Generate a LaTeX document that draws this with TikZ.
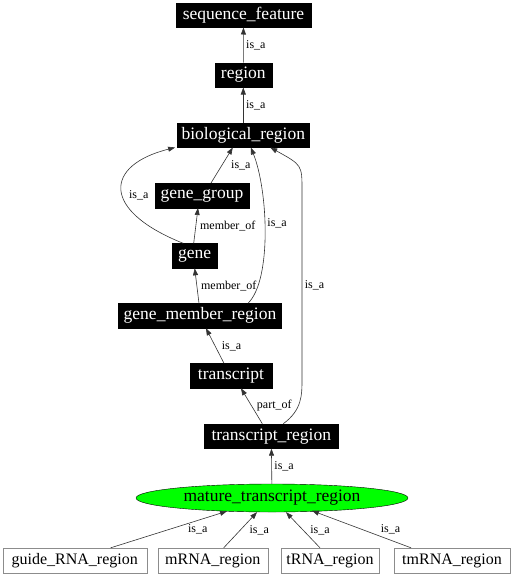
\documentclass[tikz,border=0pt]{standalone}
\usepackage{fontspec}
\setmainfont{Liberation Serif}
\usetikzlibrary{shapes.geometric, arrows.meta}
\definecolor{sogreen}{HTML}{00FF00}
\definecolor{sogray}{HTML}{8C8C8C}
\definecolor{soline}{HTML}{333333}

\begin{document}
\begin{tikzpicture}[x=1pt, y=-1pt,
    term/.style={draw=black, fill=black, text=white, inner sep=0pt,
          minimum height=24.6pt, font=\fontsize{17.5}{18}\selectfont},
    leaf/.style={draw=sogray, fill=white, text=black, inner sep=0pt,
          minimum height=25pt, font=\fontsize{16}{17}\selectfont},
    rel/.style={-{Triangle[length=7pt,width=5pt]}, line width=0.6pt, color=soline},
    lab/.style={font=\fontsize{12}{12}\selectfont, text=black, inner sep=0pt,
          anchor=west, xshift=2.5pt}]
    \useasboundingbox (0,0) rectangle (512,576);
    \node[term, minimum width=135pt] (sf) at (243.5,15) {sequence\_feature};
    \node[term, minimum width=57pt] (reg) at (243.3,75) {region};
    \node[term, minimum width=132pt] (br) at (243.3,135) {biological\_region};
    \node[term, minimum width=94pt] (gg) at (202,195.5) {gene\_group};
    \node[term, minimum width=45pt] (gene) at (194.7,255.8) {gene};
    \node[term, minimum width=163pt] (gmr) at (200,315.8) {gene\_member\_region};
    \node[term, minimum width=82pt] (tsc) at (231,375.8) {transcript};
    \node[term, minimum width=134pt] (tr) at (271.3,436.2) {transcript\_region};
    \node[ellipse, draw=black, fill=sogreen, inner sep=0pt, minimum width=272pt,
          minimum height=28pt, font=\fontsize{17.5}{18}\selectfont] (mtr) at (272,498) {mature\_transcript\_region};
    \node[leaf, minimum width=144pt] (guide) at (74.7,560.5) {guide\_RNA\_region};
    \node[leaf, minimum width=110pt] (mrna) at (212.7,560.5) {mRNA\_region};
    \node[leaf, minimum width=98pt] (trna) at (330,560.5) {tRNA\_region};
    \node[leaf, minimum width=116pt] (tmrna) at (452,560.5) {tmRNA\_region};
    % upper part of the tree
    \draw[rel] (reg) -- (sf) node[lab, midway] {is\_a};
    \draw[rel] (br) -- (reg) node[lab, midway] {is\_a};
    \draw[rel] ([xshift=9pt]gg.north) -- ([xshift=-10.5pt]br.south) node[lab, midway, xshift=6.5pt] {is\_a};
    \draw[rel] ([xshift=-11.5pt]gene.north) .. controls (100,210) and (105,165) .. ([xshift=-2pt]br.south west)
        node[lab, pos=0.45, xshift=4pt] {is\_a};
    \draw[rel] ([xshift=-1pt]gene.north) -- ([xshift=-4pt]gg.south) node[lab, midway, xshift=1.5pt] {member\_of};
    \draw[rel] ([xshift=-1pt]gmr.north) -- (gene.south) node[lab, midway, xshift=1.5pt] {member\_of};
    \draw[rel] ([xshift=48pt]gmr.north) .. controls (272,280) and (268,190) .. ([xshift=7.5pt]br.south)
        node[lab, pos=0.55] {is\_a};
    \draw[rel] ([xshift=12pt]tr.north) .. controls (302,410) and (302,395) .. (302,380) -- (302,190)
        node[lab, midway] {is\_a} .. controls (302,165) .. ([xshift=27pt]br.south);
    % transcripts
    \draw[rel] ([xshift=-7pt]tsc.north) -- ([xshift=6pt]gmr.south) node[lab, midway, xshift=4pt] {is\_a};
    \draw[rel] ([xshift=-9pt]tr.north) -- ([xshift=10pt]tsc.south) node[lab, midway, xshift=2.5pt] {part\_of};
    \draw[rel] (mtr) -- (tr) node[lab, midway] {is\_a};
    % leaves
    \draw[rel] ([xshift=36pt]guide.north) -- ([xshift=-45pt,yshift=1pt]mtr.south) node[lab, midway, xshift=16.5pt] {is\_a};
    \draw[rel] ([xshift=11pt]mrna.north) -- ([xshift=-15pt]mtr.south) node[lab, midway, xshift=6.5pt] {is\_a};
    \draw[rel] ([xshift=-10pt]trna.north) -- ([xshift=14pt]mtr.south) node[lab, midway, xshift=4.5pt] {is\_a};
    \draw[rel] ([xshift=-41pt]tmrna.north) -- ([xshift=40pt,yshift=1.5pt]mtr.south) node[lab, midway, xshift=16.5pt] {is\_a};
\end{tikzpicture}
\end{document}
